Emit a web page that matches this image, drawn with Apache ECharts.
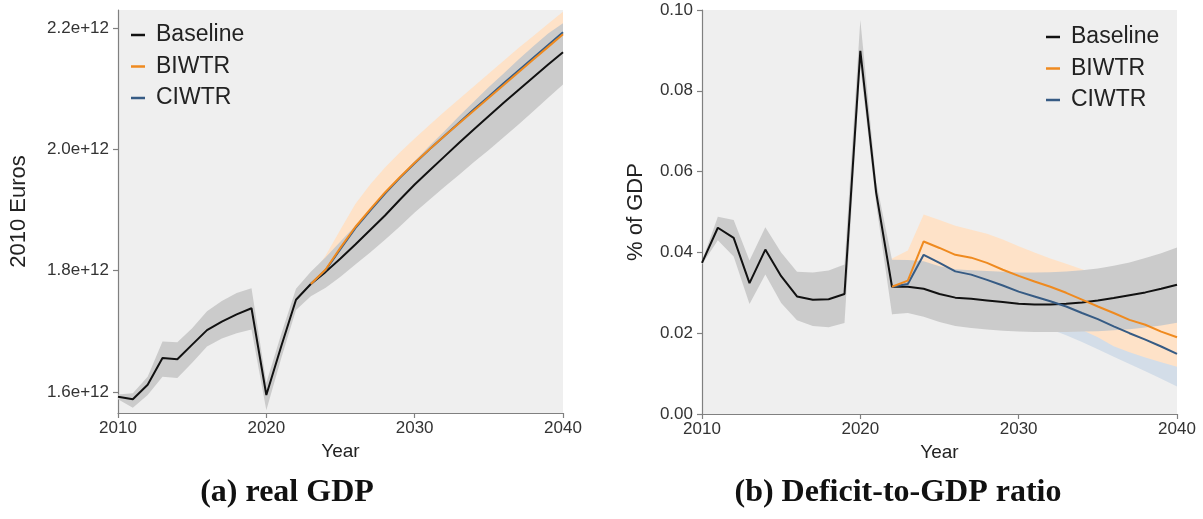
<!DOCTYPE html>
<html>
<head>
<meta charset="utf-8">
<title>real GDP and deficit-to-GDP ratio</title>
<script src="https://cdn.jsdelivr.net/npm/echarts@6.0.0/dist/echarts.min.js"></script>
<style>
html, body { margin: 0; padding: 0; background: #fff; }
#chart { width: 1203px; height: 519px; }
</style>
</head>
<body>
<div id="chart"></div>
<script>
// years shown on both panels
var years = [2010, 2011, 2012, 2013, 2014, 2015, 2016, 2017, 2018, 2019, 2020,
    2021, 2022, 2023, 2024, 2025, 2026, 2027, 2028, 2029, 2030,
    2031, 2032, 2033, 2034, 2035, 2036, 2037, 2038, 2039, 2040];
var xTicks = [2010, 2020, 2030, 2040];
var gdpTicks = [1.6, 1.8, 2.0, 2.2];   // e+12
var defTicks = [0, 0.02, 0.04, 0.06, 0.08, 0.10];
var seriesNames = ['Baseline', 'BIWTR', 'CIWTR'];

// (a) real GDP, in 1e12 2010 euros
var gdpBase = [1.592, 1.588, 1.612, 1.656, 1.654, 1.678, 1.702, 1.716, 1.728, 1.738, 1.595,
    1.675, 1.752, 1.778, 1.798, 1.820, 1.843, 1.867, 1.891, 1.917, 1.942,
    1.965, 1.988, 2.011, 2.033, 2.055, 2.077, 2.098, 2.119, 2.140, 2.160];
var gdpBaseLo = [1.588, 1.574, 1.595, 1.625, 1.623, 1.648, 1.675, 1.688, 1.697, 1.703, 1.570,
    1.655, 1.735, 1.758, 1.772, 1.790, 1.810, 1.830, 1.851, 1.873, 1.896,
    1.917, 1.938, 1.958, 1.979, 1.999, 2.020, 2.041, 2.063, 2.085, 2.107];
var gdpBaseHi = [1.596, 1.598, 1.625, 1.683, 1.682, 1.705, 1.733, 1.750, 1.763, 1.771, 1.615,
    1.695, 1.770, 1.798, 1.822, 1.848, 1.874, 1.900, 1.927, 1.954, 1.981,
    2.006, 2.030, 2.055, 2.079, 2.103, 2.125, 2.148, 2.170, 2.191, 2.208];
// policy scenarios from 2023
var gdpB = [1.778, 1.802, 1.838, 1.872, 1.901, 1.929, 1.954, 1.978, 2.000,
    2.022, 2.043, 2.064, 2.085, 2.106, 2.127, 2.148, 2.169, 2.190];
var gdpBLo = [1.766, 1.780, 1.808, 1.835, 1.861, 1.887, 1.911, 1.936, 1.958,
    1.980, 2.001, 2.022, 2.043, 2.064, 2.085, 2.106, 2.127, 2.150];
var gdpBHi = [1.790, 1.825, 1.868, 1.910, 1.942, 1.970, 1.995, 2.018, 2.040,
    2.062, 2.083, 2.104, 2.125, 2.146, 2.167, 2.187, 2.207, 2.227];
var gdpC = [1.778, 1.801, 1.836, 1.870, 1.899, 1.927, 1.953, 1.977, 2.000,
    2.022, 2.044, 2.066, 2.087, 2.109, 2.130, 2.151, 2.172, 2.193];
var gdpCLo = [1.768, 1.780, 1.806, 1.834, 1.862, 1.889, 1.914, 1.938, 1.960,
    1.982, 2.004, 2.025, 2.046, 2.067, 2.088, 2.109, 2.130, 2.152];
var gdpCHi = [1.788, 1.820, 1.862, 1.902, 1.934, 1.962, 1.988, 2.012, 2.034,
    2.056, 2.078, 2.099, 2.120, 2.141, 2.162, 2.182, 2.202, 2.222];

// (b) deficit-to-GDP ratio
var defBase = [0.0374, 0.0461, 0.0436, 0.0324, 0.0407, 0.0341, 0.0291, 0.0283, 0.0284, 0.0297, 0.0899,
    0.0548, 0.0315, 0.0315, 0.0310, 0.0297, 0.0288, 0.0285, 0.0281, 0.0277, 0.0273,
    0.0271, 0.0271, 0.0273, 0.0276, 0.0281, 0.0287, 0.0294, 0.0301, 0.0310, 0.0320];
var defBaseLo = [0.0370, 0.0430, 0.0390, 0.0272, 0.0345, 0.0275, 0.0232, 0.0218, 0.0215, 0.0225, 0.0860,
    0.0520, 0.0247, 0.0250, 0.0241, 0.0228, 0.0218, 0.0213, 0.0209, 0.0206, 0.0204,
    0.0203, 0.0203, 0.0203, 0.0204, 0.0205, 0.0207, 0.0210, 0.0214, 0.0219, 0.0226];
var defBaseHi = [0.0378, 0.0488, 0.0480, 0.0380, 0.0462, 0.0400, 0.0352, 0.0350, 0.0355, 0.0370, 0.0975,
    0.0575, 0.0382, 0.0381, 0.0378, 0.0366, 0.0358, 0.0356, 0.0354, 0.0352, 0.0350,
    0.0350, 0.0351, 0.0353, 0.0356, 0.0360, 0.0367, 0.0375, 0.0386, 0.0398, 0.0412];
// policy scenarios from 2022
var defB = [0.0315, 0.0330, 0.0427, 0.0411, 0.0394, 0.0387, 0.0374, 0.0357, 0.0342, 0.0328,
    0.0315, 0.0300, 0.0283, 0.0266, 0.0250, 0.0233, 0.0221, 0.0204, 0.0190];
var defBLo = [0.0246, 0.0270, 0.0360, 0.0345, 0.0328, 0.0318, 0.0303, 0.0285, 0.0270, 0.0255,
    0.0240, 0.0225, 0.0208, 0.0190, 0.0168, 0.0153, 0.0140, 0.0128, 0.0117];
var defBHi = [0.0385, 0.0405, 0.0494, 0.0480, 0.0466, 0.0456, 0.0446, 0.0432, 0.0415, 0.0400,
    0.0385, 0.0372, 0.0358, 0.0345, 0.0330, 0.0315, 0.0298, 0.0280, 0.0262];
var defC = [0.0315, 0.0322, 0.0394, 0.0374, 0.0353, 0.0345, 0.0332, 0.0318, 0.0303, 0.0291,
    0.0279, 0.0266, 0.0250, 0.0235, 0.0217, 0.0200, 0.0184, 0.0167, 0.0149];
var defCLo = [0.0246, 0.0262, 0.0330, 0.0310, 0.0290, 0.0280, 0.0266, 0.0250, 0.0235, 0.0222,
    0.0210, 0.0195, 0.0178, 0.0160, 0.0142, 0.0124, 0.0106, 0.0087, 0.0068];
var defCHi = [0.0382, 0.0380, 0.0445, 0.0428, 0.0408, 0.0398, 0.0385, 0.0370, 0.0355, 0.0342,
    0.0329, 0.0316, 0.0300, 0.0285, 0.0268, 0.0252, 0.0236, 0.0220, 0.0204];

var colBase = '#111111', colB = '#ef8a1f', colC = '#365b84';
var bandBase = '#cbcbcb', bandB = '#fee2c8', bandC = '#d3dde8';
var sans = 'Liberation Sans, Arial, sans-serif';

function pairs(start, arr) {
    return arr.map(function (v, i) { return [start + i, v]; });
}

// confidence band drawn as one polygon through the axis scales
function band(id, idx, start, lo, hi, color) {
    return {
        id: id, type: 'custom', xAxisIndex: idx, yAxisIndex: idx, silent: true,
        data: lo.map(function (v, i) { return [start + i, v, hi[i]]; }),
        encode: { x: 0, y: [1, 2] },
        renderItem: function (params, api) {
            if (params.dataIndex !== 0) return;
            var top = [], bot = [];
            for (var i = 0; i < lo.length; i++) {
                top.push(api.coord([start + i, hi[i]]));
                bot.unshift(api.coord([start + i, lo[i]]));
            }
            return { type: 'polygon', shape: { points: top.concat(bot) }, style: { fill: color } };
        }
    };
}

function line(name, idx, start, arr, color) {
    return {
        name: name, type: 'line', xAxisIndex: idx, yAxisIndex: idx,
        data: pairs(start, arr), symbol: 'none', showSymbol: false,
        lineStyle: { color: color, width: 2 }, itemStyle: { color: color }
    };
}

var axisLineStyle = { show: true, lineStyle: { color: '#808080', width: 1.2 } };
var tickStyle = { show: true, length: 5, lineStyle: { color: '#808080', width: 1.2 } };
var labelStyle = { color: '#333', fontSize: 17, fontFamily: sans };

function xAxis(idx) {
    return {
        type: 'value', gridIndex: idx, min: 2010, max: 2040, interval: 10,
        name: 'Year', nameLocation: 'middle', nameGap: 27,
        nameTextStyle: { color: '#222', fontSize: 19, fontFamily: sans },
        axisLine: axisLineStyle, axisTick: tickStyle, splitLine: { show: false },
        axisLabel: Object.assign({ margin: 7, formatter: function (v) { return String(v); } }, labelStyle)
    };
}

function legend(left, top) {
    return {
        orient: 'vertical', left: left, top: top, data: seriesNames, padding: 0,
        icon: 'rect', itemWidth: 14, itemHeight: 2.5, itemGap: 7.5,
        textStyle: { color: '#222', fontSize: 23, fontFamily: sans, lineHeight: 24, padding: [0, 0, 0, 6] }
    };
}

var chart = echarts.init(document.getElementById('chart'));
var option = {
    animation: false,
    backgroundColor: '#fff',
    grid: [
        { left: 118, right: 640, top: 10, bottom: 106, show: true, backgroundColor: '#efefef', borderWidth: 0 },
        { left: 702, right: 26, top: 10, bottom: 105, show: true, backgroundColor: '#efefef', borderWidth: 0 }
    ],
    xAxis: [xAxis(0), xAxis(1)],
    yAxis: [
        {
            type: 'value', gridIndex: 0, min: 1.5653, max: 2.2298,
            name: '2010 Euros', nameLocation: 'middle', nameGap: 88, nameRotate: 90,
            nameTextStyle: { color: '#222', fontSize: 22, fontFamily: sans },
            axisLine: axisLineStyle, splitLine: { show: false },
            axisTick: Object.assign({ customValues: gdpTicks }, tickStyle),
            axisLabel: Object.assign({
                margin: 9, customValues: gdpTicks,
                formatter: function (v) { return v.toFixed(1) + 'e+12'; }
            }, labelStyle)
        },
        {
            type: 'value', gridIndex: 1, min: 0, max: 0.1, interval: 0.02,
            name: '% of GDP', nameLocation: 'middle', nameGap: 55, nameRotate: 90,
            nameTextStyle: { color: '#222', fontSize: 22, fontFamily: sans },
            axisLine: axisLineStyle, axisTick: tickStyle, splitLine: { show: false },
            axisLabel: Object.assign({
                margin: 9, formatter: function (v) { return v.toFixed(2); }
            }, labelStyle)
        }
    ],
    legend: [legend(131, 23), legend(1046, 25)],
    series: [
        band('gdpCband', 0, 2023, gdpCLo, gdpCHi, bandC),
        band('gdpBband', 0, 2023, gdpBLo, gdpBHi, bandB),
        band('gdpBaseband', 0, 2010, gdpBaseLo, gdpBaseHi, bandBase),
        line('Baseline', 0, 2010, gdpBase, colBase),
        line('CIWTR', 0, 2023, gdpC, colC),
        line('BIWTR', 0, 2023, gdpB, colB),

        band('defCband', 1, 2022, defCLo, defCHi, bandC),
        band('defBband', 1, 2022, defBLo, defBHi, bandB),
        band('defBaseband', 1, 2010, defBaseLo, defBaseHi, bandBase),
        line('Baseline', 1, 2010, defBase, colBase),
        line('CIWTR', 1, 2022, defC, colC),
        line('BIWTR', 1, 2022, defB, colB)
    ],
    graphic: [
        { type: 'text', x: 287, y: 493, style: { text: '(a) real GDP', align: 'center', verticalAlign: 'middle',
            fontSize: 32, fontWeight: 'bold', fontFamily: 'Liberation Serif, serif', fill: '#111' } },
        { type: 'text', x: 898, y: 493, style: { text: '(b) Deficit-to-GDP ratio', align: 'center', verticalAlign: 'middle',
            fontSize: 32, fontWeight: 'bold', fontFamily: 'Liberation Serif, serif', fill: '#111' } }
    ]
};
chart.setOption(option);
</script>
</body>
</html>
